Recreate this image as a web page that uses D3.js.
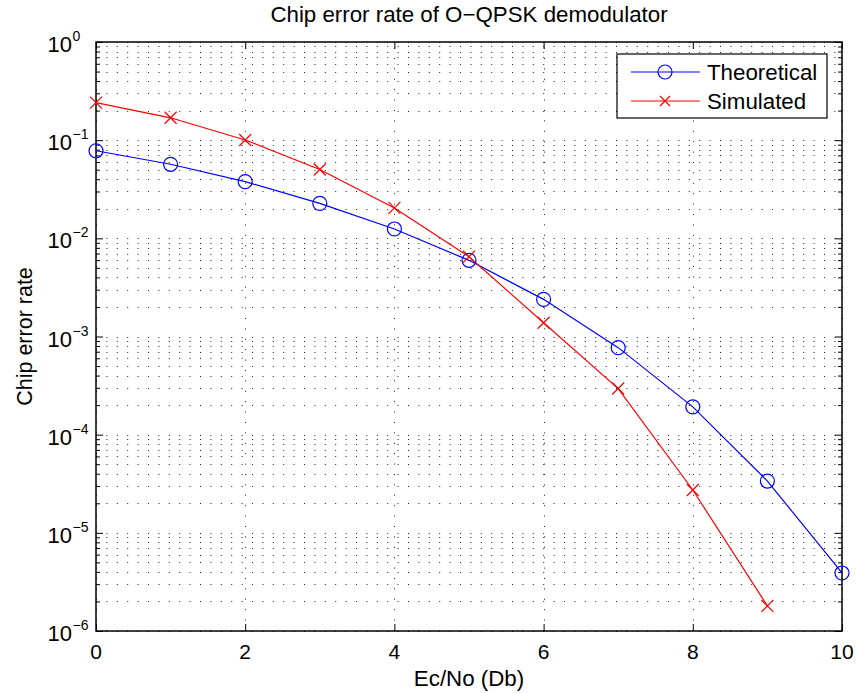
<!DOCTYPE html>
<html>
<head>
<meta charset="utf-8">
<script src="https://cdn.jsdelivr.net/npm/d3@7"></script>
<style>
    body { margin: 0; background: #fff; }
    text { font-family: "Liberation Sans", Arial, Helvetica, sans-serif; fill: #000; }
</style>
</head>
<body>
<div id="chart"></div>
<script>
//----------------------------
// Data
//----------------------------
var ecNo = [0, 1, 2, 3, 4, 5, 6, 7, 8, 9, 10];
var theoretical = [0.078, 0.0568, 0.0378, 0.0227, 0.01245, 0.00597, 0.00239, 7.7e-4, 1.92e-4, 3.37e-5, 3.9e-6];
var simulatedX = [0, 1, 2, 3, 4, 5, 6, 7, 8, 9];
var simulated = [0.241, 0.169, 0.1005, 0.0503, 0.0204, 0.0065, 0.00138, 2.95e-4, 2.73e-5, 1.8e-6];
var xTicks = [0, 2, 4, 6, 8, 10];
var yExponents = [0, -1, -2, -3, -4, -5, -6];
var seriesNames = ["Theoretical", "Simulated"];

// set the dimensions and margins of the graph
var margin = {top: 42, right: 14, bottom: 62, left: 96},
    width = 856 - margin.left - margin.right,
    height = 693 - margin.top - margin.bottom;

var svg = d3.select("#chart")
    .append("svg")
    .attr("width", 856)
    .attr("height", 693);

var g = svg.append("g")
    .attr("transform", "translate(" + margin.left + "," + margin.top + ")");

//----------------------------
// Scales
//----------------------------
var xScale = d3.scaleLinear()
    .domain([0, 10])
    .range([0, width]);

var yScale = d3.scaleLog()
    .domain([1e-6, 1])
    .range([height, 0]);

// all log ticks (majors + minors) for the grid
var yAllTicks = [];
yExponents.forEach(function (e) {
    if (e === 0) { yAllTicks.push(1); return; }
    for (var m = 1; m < 10; m++) { yAllTicks.push(m * Math.pow(10, e)); }
});
var yMinor = yAllTicks.filter(d => Math.abs(Math.log10(d) - Math.round(Math.log10(d))) > 1e-9);

//----------------------------
// Grid (dotted)
//----------------------------
g.append("g")
    .attr("class", "grid")
    .selectAll("line")
    .data(yAllTicks)
    .enter().append("line")
    .attr("x1", 0)
    .attr("x2", width)
    .attr("y1", d => Math.round(yScale(d)) + 0.5)
    .attr("y2", d => Math.round(yScale(d)) + 0.5)
    .attr("stroke", "#222")
    .attr("stroke-width", 1)
    .attr("stroke-dasharray", "1,9.4");

g.append("g")
    .attr("class", "grid")
    .selectAll("line")
    .data(xTicks)
    .enter().append("line")
    .attr("x1", d => Math.round(xScale(d)) + 0.5)
    .attr("x2", d => Math.round(xScale(d)) + 0.5)
    .attr("y1", height)
    .attr("y2", 0)
    .attr("stroke", "#222")
    .attr("stroke-width", 1)
    .attr("stroke-dasharray", "1,9.4");

//----------------------------
// Axes (box with ticks inside on all sides)
//----------------------------
g.append("g")
    .attr("transform", "translate(0," + height + ")")
    .call(d3.axisBottom(xScale).tickValues(xTicks).tickSize(-7).tickFormat(""));
g.append("g")
    .call(d3.axisTop(xScale).tickValues(xTicks).tickSize(-7).tickFormat(""));
g.append("g")
    .call(d3.axisLeft(yScale).tickValues(yExponents.map(e => Math.pow(10, e))).tickSize(-7).tickFormat(""));
g.append("g")
    .call(d3.axisLeft(yScale).tickValues(yMinor).tickSize(-4).tickFormat(""));
g.append("g")
    .attr("transform", "translate(" + width + ",0)")
    .call(d3.axisRight(yScale).tickValues(yExponents.map(e => Math.pow(10, e))).tickSize(-7).tickFormat(""));
g.append("g")
    .attr("transform", "translate(" + width + ",0)")
    .call(d3.axisRight(yScale).tickValues(yMinor).tickSize(-4).tickFormat(""));

g.selectAll(".domain").remove();
g.selectAll(".tick line").attr("stroke", "#000").attr("stroke-width", 1);

// frame
g.append("rect")
    .attr("x", 0)
    .attr("y", 0)
    .attr("width", width)
    .attr("height", height)
    .attr("fill", "none")
    .attr("stroke", "#000")
    .attr("stroke-width", 1.5);

// x tick labels
g.selectAll(".xlabel")
    .data(xTicks)
    .enter().append("text")
    .attr("class", "xlabel")
    .attr("x", d => xScale(d))
    .attr("y", height + 28)
    .attr("text-anchor", "middle")
    .style("font-size", "21px")
    .text(d => d);

// y tick labels as 10^n
var yLab = g.selectAll(".ylabel")
    .data(yExponents)
    .enter().append("g")
    .attr("class", "ylabel")
    .attr("transform", d => "translate(-24," + (yScale(Math.pow(10, d)) + 10) + ")");

yLab.append("text")
    .attr("text-anchor", "end")
    .style("font-size", "22px")
    .text("10");

yLab.append("text")
    .attr("x", 0.5)
    .attr("y", -11)
    .attr("text-anchor", "start")
    .style("font-size", "14px")
    .text(d => d === 0 ? "0" : "\u2212" + Math.abs(d));

//----------------------------
// Titles
//----------------------------
svg.append("text")
    .attr("x", margin.left + width / 2)
    .attr("y", 22)
    .attr("text-anchor", "middle")
    .style("font-size", "22.3px")
    .text("Chip error rate of O\u2212QPSK demodulator");

svg.append("text")
    .attr("x", margin.left + width / 2)
    .attr("y", 686)
    .attr("text-anchor", "middle")
    .style("font-size", "22.3px")
    .text("Ec/No (Db)");

svg.append("text")
    .attr("transform", "translate(32," + (margin.top + height / 2) + ") rotate(-90)")
    .attr("text-anchor", "middle")
    .style("font-size", "21.5px")
    .text("Chip error rate");

//----------------------------
// Lines and markers
//----------------------------
var line = d3.line()
    .x(d => xScale(d[0]))
    .y(d => yScale(d[1]));

var theoData = d3.zip(ecNo, theoretical);
var simData = d3.zip(simulatedX, simulated);

g.append("path")
    .datum(theoData)
    .attr("d", line)
    .attr("fill", "none")
    .attr("stroke", "#0000ff")
    .attr("stroke-width", 1.2);

g.append("path")
    .datum(simData)
    .attr("d", line)
    .attr("fill", "none")
    .attr("stroke", "#ff0000")
    .attr("stroke-width", 1.2);

g.selectAll(".circ")
    .data(theoData)
    .enter().append("circle")
    .attr("class", "circ")
    .attr("cx", d => xScale(d[0]))
    .attr("cy", d => yScale(d[1]))
    .attr("r", 7)
    .attr("fill", "none")
    .attr("stroke", "#0000ff")
    .attr("stroke-width", 1.2);

function drawCross(sel, s) {
    sel.append("path")
        .attr("d", "M" + (-s) + "," + (-s) + "L" + s + "," + s + "M" + (-s) + "," + s + "L" + s + "," + (-s))
        .attr("fill", "none")
        .attr("stroke", "#ff0000")
        .attr("stroke-width", 1.2);
}

g.selectAll(".cross")
    .data(simData)
    .enter().append("g")
    .attr("class", "cross")
    .attr("transform", d => "translate(" + xScale(d[0]) + "," + yScale(d[1]) + ")")
    .call(drawCross, 6);

//----------------------------
// Legend
//----------------------------
var legend = svg.append("g")
    .attr("class", "legend")
    .attr("transform", "translate(617,54)");

legend.append("rect")
    .attr("width", 210)
    .attr("height", 64)
    .attr("fill", "#fff")
    .attr("stroke", "#000")
    .attr("stroke-width", 1.2);

var legColors = ["#0000ff", "#ff0000"];
seriesNames.forEach(function (name, i) {
    var ly = 18 + i * 29;
    legend.append("line")
        .attr("x1", 14)
        .attr("x2", 83)
        .attr("y1", ly)
        .attr("y2", ly)
        .attr("stroke", legColors[i])
        .attr("stroke-width", 1.2);
    if (i === 0) {
        legend.append("circle")
            .attr("cx", 48)
            .attr("cy", ly)
            .attr("r", 7)
            .attr("fill", "none")
            .attr("stroke", legColors[i])
            .attr("stroke-width", 1.2);
    } else {
        legend.append("g")
            .attr("transform", "translate(48," + ly + ")")
            .call(drawCross, 5);
    }
    legend.append("text")
        .attr("x", 90)
        .attr("y", ly + 8)
        .style("font-size", "22.3px")
        .text(name);
});
</script>
</body>
</html>
